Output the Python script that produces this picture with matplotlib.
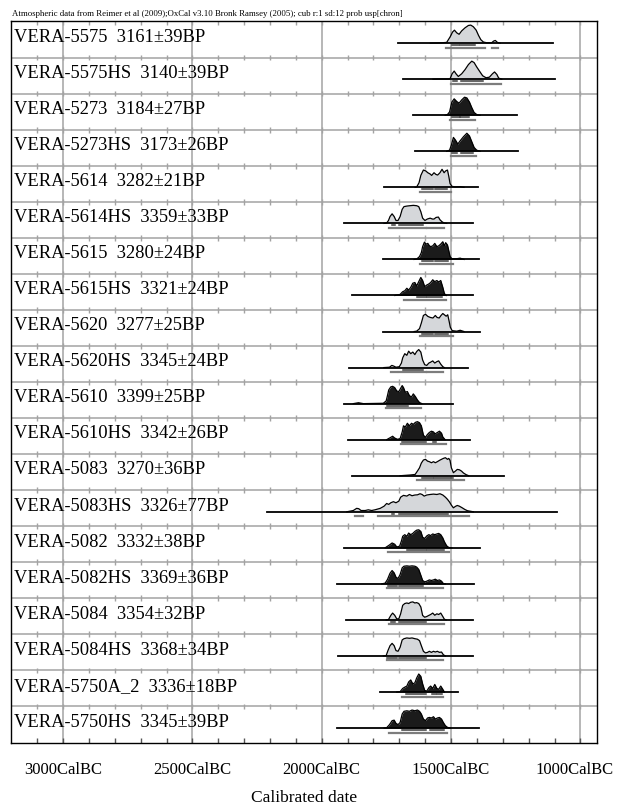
"""
Multiple radiocarbon calibration plot for the VERA samples,
written to out.png.
"""

import matplotlib.pyplot as plt
from matplotlib.transforms import ScaledTranslation

# variables
OUTPUT_FILE = 'out.png'
FIG_W, FIG_H, DPI = 6.18, 8.05, 100
X_LEFT, X_RIGHT = 3203, 936          # calendar years BC at the frame edges
BASE_OFFSET = 0.6                    # baseline position inside a row
PEAK = 0.5                           # height of the highest probability
LIGHT = '#d5d7da'
DARK_FILL = '#1b1b1b'
GRID = '#a3a3a3'

HEADER = ('Atmospheric data from Reimer et al (2009);OxCal v3.10 Bronk Ramsey (2005); '
          'cub r:1 sd:12 prob usp[chron]')

LABELS = [
    'VERA-5575  3161±39BP', 'VERA-5575HS  3140±39BP',
    'VERA-5273  3184±27BP', 'VERA-5273HS  3173±26BP',
    'VERA-5614  3282±21BP', 'VERA-5614HS  3359±33BP',
    'VERA-5615  3280±24BP', 'VERA-5615HS  3321±24BP',
    'VERA-5620  3277±25BP', 'VERA-5620HS  3345±24BP',
    'VERA-5610  3399±25BP', 'VERA-5610HS  3342±26BP',
    'VERA-5083  3270±36BP', 'VERA-5083HS  3326±77BP',
    'VERA-5082  3332±38BP', 'VERA-5082HS  3369±36BP',
    'VERA-5084  3354±32BP', 'VERA-5084HS  3368±34BP',
    'VERA-5750A_2  3336±18BP', 'VERA-5750HS  3345±39BP',
]

DARK = [False, False, True, True, False, False, True, True, False, False,
        True, True, False, False, True, True, False, False, True, True]

# extent of the horizontal line under each distribution (BC)
SPANS = [
    (1706, 1107), (1684, 1098), (1649, 1246), (1639, 1242), (1759, 1397),
    (1914, 1414), (1762, 1392), (1883, 1414), (1762, 1388), (1893, 1433),
    (1914, 1494), (1897, 1427), (1883, 1295), (2213, 1092), (1912, 1388),
    (1942, 1410), (1907, 1414), (1938, 1414), (1775, 1472), (1940, 1391),
]

# calibrated probability, (year BC, relative probability)
CURVES = [
    [(1580, 0), (1555, 0.01), (1536, 0.02), (1517, 0.04), (1504, 0.34), (1494, 0.62), (1487, 0.72),
     (1478, 0.57), (1469, 0.49), (1459, 0.68), (1446, 0.85), (1433, 0.98), (1424, 1.0), (1414, 0.91),
     (1403, 0.72), (1394, 0.43), (1385, 0.19), (1375, 0.06), (1362, 0.02), (1343, 0.02), (1336, 0.11),
     (1329, 0.15), (1321, 0.04), (1311, 0)],
    [(1570, 0), (1543, 0.01), (1510, 0.01), (1504, 0.02), (1496, 0.30), (1488, 0.45), (1481, 0.30),
     (1472, 0.15), (1459, 0.30), (1446, 0.53), (1433, 0.81), (1420, 1.0), (1411, 0.92), (1401, 0.68),
     (1388, 0.40), (1378, 0.19), (1365, 0.08), (1352, 0.11), (1340, 0.30), (1332, 0.40), (1323, 0.26),
     (1316, 0.06), (1304, 0)],
    [(1523, 0), (1514, 0.04), (1506, 0.18), (1497, 0.73), (1488, 0.91), (1478, 0.76), (1469, 0.67),
     (1459, 0.85), (1448, 1.0), (1439, 0.96), (1429, 0.73), (1420, 0.42), (1411, 0.15), (1401, 0.04),
     (1388, 0)],
    [(1517, 0), (1506, 0.06), (1499, 0.34), (1491, 0.77), (1483, 0.62), (1474, 0.40), (1465, 0.58),
     (1452, 0.81), (1439, 1.0), (1429, 0.85), (1420, 0.53), (1411, 0.21), (1401, 0.06), (1388, 0)],
    [(1639, 0), (1633, 0.02), (1624, 0.25), (1617, 0.66), (1607, 0.96), (1598, 0.91), (1590, 0.81),
     (1581, 0.74), (1575, 0.66), (1566, 0.81), (1559, 0.72), (1552, 0.68), (1543, 0.81), (1535, 1.0),
     (1527, 0.81), (1521, 0.91), (1514, 0.96), (1509, 0.62), (1504, 0.21), (1497, 0.06), (1485, 0.02),
     (1465, 0.04), (1450, 0)],
    [(1759, 0), (1749, 0.02), (1742, 0.16), (1736, 0.38), (1728, 0.53), (1720, 0.38), (1713, 0.16),
     (1705, 0.16), (1697, 0.38), (1689, 0.78), (1682, 0.93), (1671, 0.96), (1659, 0.98), (1646, 1.0),
     (1633, 0.98), (1625, 0.93), (1617, 0.65), (1610, 0.29), (1601, 0.16), (1592, 0.24), (1581, 0.29),
     (1572, 0.24), (1566, 0.24), (1558, 0.33), (1549, 0.35), (1543, 0.20), (1535, 0.09), (1527, 0.02),
     (1517, 0)],
    [(1643, 0), (1633, 0.02), (1622, 0.16), (1615, 0.38), (1610, 0.71), (1603, 0.96), (1597, 0.85),
     (1590, 0.89), (1584, 0.76), (1579, 0.71), (1571, 0.75), (1563, 0.89), (1555, 0.71), (1548, 0.75),
     (1540, 0.85), (1532, 0.98), (1526, 0.75), (1521, 0.93), (1514, 0.80), (1509, 0.49), (1504, 0.16),
     (1497, 0.04), (1478, 0.04), (1465, 0.07), (1450, 0)],
    [(1717, 0), (1697, 0.06), (1687, 0.21), (1679, 0.26), (1671, 0.40), (1664, 0.30), (1656, 0.45),
     (1648, 0.68), (1640, 0.72), (1633, 0.53), (1625, 0.77), (1617, 1.0), (1610, 0.83), (1602, 0.49),
     (1594, 0.58), (1586, 0.64), (1579, 0.72), (1571, 0.87), (1563, 0.77), (1555, 0.83), (1548, 0.75),
     (1540, 0.83), (1532, 0.45), (1526, 0.11), (1519, 0)],
    [(1643, 0), (1633, 0.02), (1622, 0.16), (1615, 0.47), (1607, 0.89), (1599, 0.96), (1590, 0.84),
     (1580, 0.78), (1570, 0.75), (1561, 0.89), (1554, 0.78), (1546, 0.75), (1539, 0.89), (1532, 1.0),
     (1526, 0.93), (1519, 0.85), (1513, 0.93), (1508, 0.60), (1503, 0.24), (1496, 0.05), (1478, 0.02),
     (1465, 0.07), (1450, 0)],
    [(1760, 0), (1749, 0.01), (1738, 0.02), (1729, 0.12), (1723, 0.09), (1713, 0.02), (1700, 0.05),
     (1692, 0.25), (1687, 0.54), (1679, 0.77), (1671, 0.68), (1664, 0.91), (1656, 0.77), (1648, 0.86),
     (1640, 0.72), (1633, 0.89), (1625, 1.0), (1617, 0.86), (1610, 0.42), (1602, 0.16), (1594, 0.12),
     (1586, 0.25), (1579, 0.30), (1571, 0.37), (1563, 0.25), (1555, 0.33), (1548, 0.37), (1540, 0.19),
     (1532, 0.05), (1526, 0)],
    [(1878, 0), (1858, 0.05), (1839, 0), (1762, 0.02), (1751, 0.15), (1746, 0.44), (1741, 0.76),
     (1733, 0.93), (1726, 0.96), (1718, 0.89), (1710, 0.70), (1702, 0.67), (1695, 0.85), (1689, 1.0),
     (1684, 0.89), (1677, 0.63), (1669, 0.67), (1661, 0.44), (1653, 0.37), (1646, 0.54), (1638, 0.39),
     (1630, 0.20), (1622, 0.06), (1613, 0)],
    [(1749, 0), (1733, 0.13), (1726, 0.19), (1718, 0.09), (1707, 0.02), (1697, 0.06), (1689, 0.43),
     (1684, 0.77), (1677, 0.70), (1669, 0.91), (1661, 0.77), (1653, 0.91), (1646, 0.85), (1638, 0.96),
     (1630, 1.0), (1622, 0.94), (1615, 0.77), (1607, 0.25), (1599, 0.13), (1592, 0.28), (1584, 0.40),
     (1576, 0.47), (1568, 0.43), (1562, 0.32), (1553, 0.40), (1545, 0.47), (1537, 0.36), (1532, 0.15),
     (1523, 0)],
    [(1697, 0), (1659, 0.04), (1639, 0.07), (1630, 0.26), (1622, 0.44), (1615, 0.70), (1607, 0.87),
     (1599, 0.91), (1591, 0.81), (1584, 0.78), (1576, 0.72), (1568, 0.78), (1561, 0.72), (1553, 0.78),
     (1545, 0.85), (1537, 0.91), (1530, 0.96), (1522, 1.0), (1514, 0.91), (1509, 0.96), (1504, 0.85),
     (1499, 0.44), (1491, 0.17), (1483, 0.26), (1476, 0.35), (1468, 0.33), (1460, 0.26), (1452, 0.15),
     (1442, 0.06), (1432, 0)],
    [(1903, 0), (1878, 0.07), (1865, 0.19), (1857, 0.17), (1848, 0.07), (1832, 0.07), (1820, 0.11),
     (1807, 0.07), (1794, 0.11), (1774, 0.19), (1759, 0.31), (1749, 0.46), (1741, 0.41), (1733, 0.50),
     (1723, 0.56), (1713, 0.50), (1702, 0.59), (1695, 0.81), (1684, 0.91), (1671, 0.87), (1661, 0.96),
     (1651, 0.89), (1640, 0.93), (1630, 0.94), (1620, 1.0), (1612, 0.96), (1604, 0.87), (1594, 0.93),
     (1581, 0.96), (1568, 0.98), (1555, 0.96), (1543, 1.0), (1532, 0.93), (1522, 0.81), (1514, 0.69),
     (1506, 0.54), (1499, 0.37), (1491, 0.22), (1483, 0.30), (1476, 0.35), (1468, 0.31), (1457, 0.22),
     (1447, 0.13), (1437, 0.06), (1414, 0)],
    [(1755, 0), (1738, 0.16), (1728, 0.27), (1718, 0.20), (1710, 0.05), (1699, 0.09), (1692, 0.38),
     (1687, 0.64), (1679, 0.73), (1671, 0.64), (1664, 0.82), (1656, 0.73), (1648, 0.80), (1640, 0.91),
     (1633, 0.98), (1625, 1.0), (1617, 0.91), (1610, 0.59), (1602, 0.52), (1594, 0.66), (1586, 0.73),
     (1579, 0.68), (1571, 0.77), (1563, 0.73), (1555, 0.77), (1548, 0.80), (1540, 0.73), (1532, 0.55),
     (1526, 0.34), (1517, 0.11), (1509, 0.02), (1497, 0)],
    [(1768, 0), (1755, 0.04), (1746, 0.24), (1736, 0.59), (1728, 0.74), (1720, 0.61), (1713, 0.37),
     (1705, 0.30), (1697, 0.52), (1689, 0.89), (1682, 0.98), (1671, 1.0), (1661, 0.98), (1651, 1.0),
     (1640, 0.98), (1633, 0.93), (1625, 0.80), (1617, 0.48), (1610, 0.19), (1602, 0.11), (1594, 0.15),
     (1584, 0.22), (1576, 0.19), (1568, 0.22), (1561, 0.26), (1553, 0.19), (1545, 0.22), (1537, 0.15),
     (1530, 0.02), (1522, 0)],
    [(1751, 0), (1742, 0.02), (1733, 0.25), (1726, 0.38), (1718, 0.26), (1710, 0.06), (1702, 0.06),
     (1695, 0.34), (1687, 0.81), (1679, 0.91), (1671, 0.94), (1664, 0.91), (1656, 0.98), (1648, 1.0),
     (1640, 0.94), (1633, 0.96), (1625, 0.91), (1617, 0.72), (1610, 0.25), (1602, 0.15), (1594, 0.19),
     (1586, 0.25), (1579, 0.30), (1571, 0.38), (1563, 0.26), (1555, 0.34), (1548, 0.30), (1540, 0.38),
     (1532, 0.19), (1526, 0.04), (1519, 0)],
    [(1762, 0), (1751, 0.02), (1744, 0.30), (1736, 0.57), (1728, 0.70), (1720, 0.57), (1713, 0.30),
     (1705, 0.26), (1697, 0.48), (1689, 0.89), (1682, 0.96), (1671, 1.0), (1661, 0.98), (1651, 1.0),
     (1640, 0.96), (1630, 0.93), (1622, 0.85), (1615, 0.57), (1607, 0.26), (1599, 0.17), (1591, 0.20),
     (1584, 0.26), (1576, 0.20), (1568, 0.26), (1561, 0.22), (1553, 0.26), (1545, 0.20), (1537, 0.22),
     (1530, 0.07), (1522, 0)],
    [(1710, 0), (1697, 0.02), (1687, 0.20), (1679, 0.27), (1671, 0.33), (1664, 0.56), (1656, 0.67),
     (1648, 0.45), (1640, 0.51), (1633, 0.78), (1625, 1.0), (1617, 0.87), (1610, 0.45), (1602, 0.09),
     (1594, 0.05), (1586, 0.24), (1579, 0.33), (1571, 0.20), (1563, 0.42), (1555, 0.20), (1548, 0.15),
     (1540, 0.33), (1532, 0.15), (1526, 0)],
    [(1759, 0), (1749, 0.02), (1738, 0.19), (1728, 0.41), (1720, 0.44), (1713, 0.26), (1705, 0.19),
     (1697, 0.31), (1689, 0.78), (1682, 0.93), (1671, 0.96), (1661, 0.93), (1651, 1.0), (1640, 0.96),
     (1630, 1.0), (1622, 0.93), (1615, 0.78), (1607, 0.50), (1599, 0.41), (1591, 0.56), (1584, 0.59),
     (1576, 0.56), (1568, 0.63), (1561, 0.50), (1553, 0.56), (1545, 0.59), (1537, 0.50), (1530, 0.31),
     (1522, 0.13), (1514, 0.04), (1504, 0)],
]

# 68.2% and 95.4% probability ranges (BC)
RANGE_68 = [
    [(1496, 1470), (1466, 1406)], [(1493, 1478), (1460, 1378)],
    [(1496, 1467), (1465, 1429)], [(1495, 1478), (1460, 1414)],
    [(1613, 1571), (1562, 1514)], [(1729, 1716), (1700, 1610)],
    [(1612, 1568), (1562, 1510)], [(1633, 1598), (1592, 1536)],
    [(1612, 1568), (1562, 1510)], [(1687, 1607)],
    [(1749, 1665)], [(1689, 1598), (1571, 1559)],
    [(1612, 1570), (1566, 1491)], [(1729, 1719), (1700, 1510)],
    [(1671, 1598), (1592, 1526)], [(1744, 1710), (1700, 1607)],
    [(1732, 1716), (1700, 1598)], [(1749, 1710), (1700, 1598)],
    [(1674, 1598), (1572, 1559), (1553, 1536)], [(1691, 1598), (1581, 1526)],
]
RANGE_95 = [
    [(1521, 1369), (1340, 1318)], [(1500, 1308)],
    [(1506, 1407)], [(1500, 1403)],
    [(1620, 1500)], [(1741, 1598), (1592, 1527)],
    [(1620, 1491)], [(1682, 1519)],
    [(1620, 1491)], [(1732, 1710), (1700, 1598), (1594, 1530)],
    [(1753, 1617)], [(1695, 1519)],
    [(1630, 1450)], [(1871, 1839), (1781, 1429)],
    [(1742, 1710), (1700, 1509)], [(1749, 1598), (1590, 1530)],
    [(1741, 1527)], [(1749, 1598), (1591, 1530)],
    [(1691, 1598), (1594, 1530)], [(1741, 1517)],
]

MAJOR_YEARS = [3000, 2500, 2000, 1500, 1000]
MINOR_YEARS = list(range(3100, 900, -100))


def draw_frame(ax, n):
    # 500 year grid lines and row separators with century ticks
    for yr in MAJOR_YEARS:
        ax.axvline(yr, color=GRID, lw=1.1, zorder=1)
    for k in range(1, n):
        ax.axhline(k, color=GRID, lw=1.1, zorder=1)
        ax.vlines(MINOR_YEARS, k - 0.08, k + 0.08, color=GRID, lw=1.0, zorder=1)
    ax.vlines(MINOR_YEARS, 0, 0.11, color=GRID, lw=1.0, zorder=1)
    ax.vlines(MINOR_YEARS, n - 0.13, n, color='#555555', lw=1.0, zorder=1)


def draw_row(ax, i):
    base = i + BASE_OFFSET
    years = [p[0] for p in CURVES[i]]
    tops = [base - PEAK * p[1] for p in CURVES[i]]
    fill = DARK_FILL if DARK[i] else LIGHT
    ax.fill_between(years, base, tops, color=fill, lw=0, zorder=3)
    ax.plot(years, tops, color='black', lw=0.9, zorder=4)
    ax.plot(SPANS[i], [base, base], color='black', lw=1.3, zorder=4)
    for a, b in RANGE_68[i]:
        ax.plot([a, b], [base + 0.055, base + 0.055], color='#3a3a3a', lw=1.1, zorder=4)
    for a, b in RANGE_95[i]:
        ax.plot([a, b], [base + 0.125, base + 0.125], color='#7d7d7d', lw=1.6, zorder=4)
    ax.text(3188, i + 0.44, LABELS[i], fontsize=13.3, va='center', ha='left', zorder=5)


def plot_graph():
    plt.rcParams['font.family'] = ['Liberation Serif', 'DejaVu Serif']
    n = len(LABELS)
    fig = plt.figure(figsize=(FIG_W, FIG_H), dpi=DPI)
    ax = fig.add_axes([10.5 / 618, 1 - 742.5 / 805, 586.5 / 618, 721 / 805])
    ax.set_xlim(X_LEFT, X_RIGHT)
    ax.set_ylim(n, 0)

    draw_frame(ax, n)
    for i in range(n):
        draw_row(ax, i)

    ax.set_yticks([])
    ax.set_xticks(MAJOR_YEARS)
    ax.set_xticklabels([f'{y}CalBC' for y in MAJOR_YEARS], fontsize=12)
    ax.tick_params(axis='x', length=0, pad=14)
    # keep the last label inside the figure
    last = ax.get_xticklabels()[-1]
    last.set_transform(last.get_transform() + ScaledTranslation(-4 / 72, 0, fig.dpi_scale_trans))
    ax.set_xlabel('Calibrated date', fontsize=12.5, labelpad=9)
    for s in ax.spines.values():
        s.set_linewidth(1.0)

    fig.text(11.5 / 618, 1 - 14 / 805, HEADER, fontsize=6.3, va='center', ha='left')
    fig.savefig(OUTPUT_FILE, dpi=DPI)


# main
if __name__ == '__main__':
    plot_graph()
